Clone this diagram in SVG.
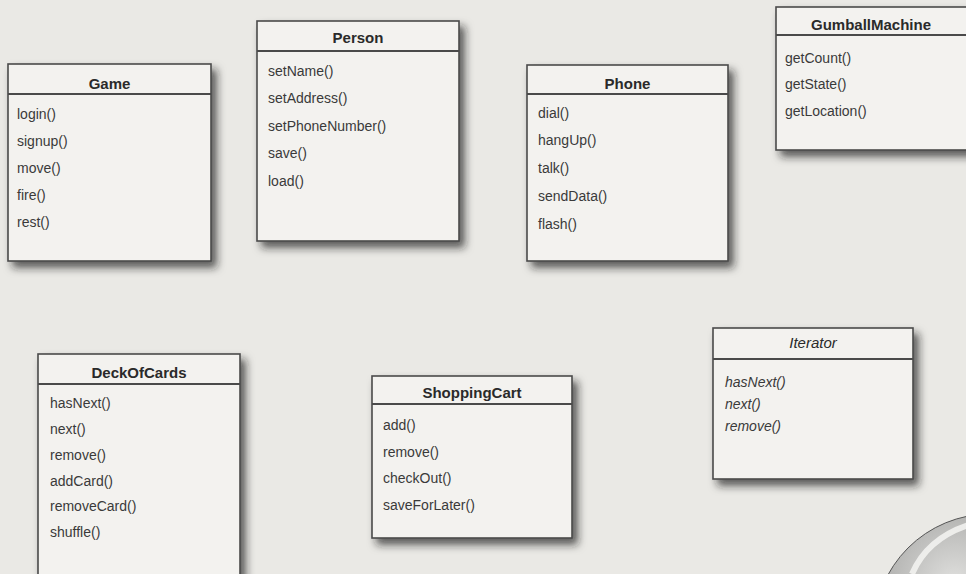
<svg xmlns="http://www.w3.org/2000/svg" width="966" height="574" viewBox="0 0 966 574">
<defs>
<filter id="sh" x="-10%" y="-10%" width="130%" height="130%">
<feDropShadow dx="5" dy="6" stdDeviation="4" flood-color="#1a1a1a" flood-opacity="0.7"/>
</filter>
<radialGradient id="ball" cx="0.35" cy="0.3" r="0.8">
<stop offset="0" stop-color="#e0e0de"/>
<stop offset="0.5" stop-color="#a5a5a3"/>
<stop offset="1" stop-color="#5e5e5c"/>
</radialGradient>
<style>
.box{fill:#f3f2ef;stroke:#4a4a4a;stroke-width:1.6}
.hl{stroke:#4a4a4a;stroke-width:2}
.t{font-family:"Liberation Sans",Arial,sans-serif;font-size:15px;font-weight:bold;fill:#2a2a2a;text-anchor:middle}
.m{font-family:"Liberation Sans",Arial,sans-serif;font-size:14px;fill:#3a3a3a}
.i{font-style:italic}
</style>
</defs>
<rect width="966" height="574" fill="#eae9e5"/>

<g id="Game">
<rect class="box" x="8" y="64" width="203" height="197" filter="url(#sh)"/>
<line class="hl" x1="8" y1="94" x2="211" y2="94"/>
<text class="t" x="109.5" y="89">Game</text>
<text class="m" x="17" y="119">login()</text>
<text class="m" x="17" y="146">signup()</text>
<text class="m" x="17" y="173">move()</text>
<text class="m" x="17" y="200">fire()</text>
<text class="m" x="17" y="227">rest()</text>
</g>

<g id="Person">
<rect class="box" x="257" y="21" width="202" height="220" filter="url(#sh)"/>
<line class="hl" x1="257" y1="51" x2="459" y2="51"/>
<text class="t" x="358" y="43">Person</text>
<text class="m" x="268" y="76">setName()</text>
<text class="m" x="268" y="103">setAddress()</text>
<text class="m" x="268" y="131">setPhoneNumber()</text>
<text class="m" x="268" y="158">save()</text>
<text class="m" x="268" y="186">load()</text>
</g>

<g id="Phone">
<rect class="box" x="527" y="65" width="201" height="196" filter="url(#sh)"/>
<line class="hl" x1="527" y1="94" x2="728" y2="94"/>
<text class="t" x="627.5" y="89">Phone</text>
<text class="m" x="538" y="118">dial()</text>
<text class="m" x="538" y="145">hangUp()</text>
<text class="m" x="538" y="173">talk()</text>
<text class="m" x="538" y="201">sendData()</text>
<text class="m" x="538" y="229">flash()</text>
</g>

<g id="GumballMachine">
<rect class="box" x="776" y="7" width="210" height="143" filter="url(#sh)"/>
<line class="hl" x1="776" y1="35" x2="966" y2="35"/>
<text class="t" x="871" y="30">GumballMachine</text>
<text class="m" x="785" y="63">getCount()</text>
<text class="m" x="785" y="89">getState()</text>
<text class="m" x="785" y="116">getLocation()</text>
</g>

<g id="DeckOfCards">
<rect class="box" x="38" y="354" width="202" height="240" filter="url(#sh)"/>
<line class="hl" x1="38" y1="384" x2="240" y2="384"/>
<text class="t" x="139" y="378">DeckOfCards</text>
<text class="m" x="50" y="408">hasNext()</text>
<text class="m" x="50" y="434">next()</text>
<text class="m" x="50" y="460">remove()</text>
<text class="m" x="50" y="486">addCard()</text>
<text class="m" x="50" y="511">removeCard()</text>
<text class="m" x="50" y="537">shuffle()</text>
</g>

<g id="ShoppingCart">
<rect class="box" x="372" y="376" width="200" height="162" filter="url(#sh)"/>
<line class="hl" x1="372" y1="404" x2="572" y2="404"/>
<text class="t" x="472" y="398">ShoppingCart</text>
<text class="m" x="383" y="430">add()</text>
<text class="m" x="383" y="457">remove()</text>
<text class="m" x="383" y="483">checkOut()</text>
<text class="m" x="383" y="510">saveForLater()</text>
</g>

<g id="Iterator">
<rect class="box" x="713" y="328" width="200" height="151" filter="url(#sh)"/>
<line class="hl" x1="713" y1="359" x2="913" y2="359"/>
<text class="t i" x="813" y="348" style="font-weight:normal">Iterator</text>
<text class="m i" x="725" y="387">hasNext()</text>
<text class="m i" x="725" y="409">next()</text>
<text class="m i" x="725" y="431">remove()</text>
</g>

<g id="connectors"></g>

<g id="ball">
<circle cx="990" cy="630" r="116" fill="url(#ball)" stroke="#555" stroke-width="1"/>
<path d="M912 574 Q928 537 972 524" fill="none" stroke="#f4f4f2" stroke-width="6" opacity="0.85"/>
</g>
</svg>
